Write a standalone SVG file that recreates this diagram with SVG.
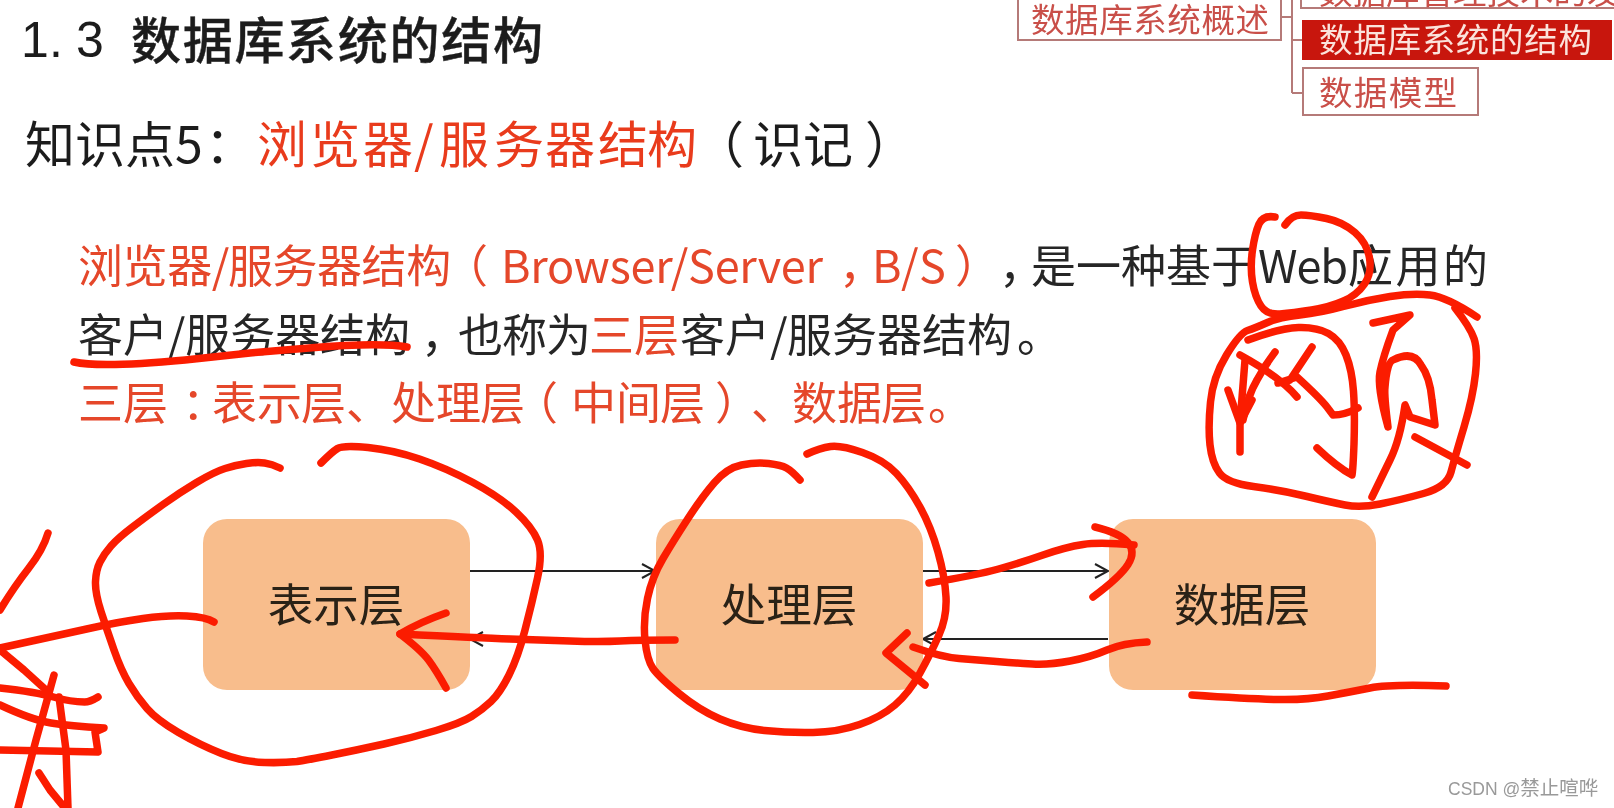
<svg xmlns="http://www.w3.org/2000/svg" width="1614" height="808" viewBox="0 0 1614 808">
<defs>
<filter id="soft" x="-2%" y="-2%" width="104%" height="104%"><feGaussianBlur stdDeviation="0.55"/></filter>
<marker id="arr" markerWidth="18" markerHeight="18" refX="15" refY="9" orient="auto" markerUnits="userSpaceOnUse"><path d="M2 2 L15 9 L2 16" fill="none" stroke="#222" stroke-width="2"/></marker>
</defs>
<style>
text{font-family:"Noto Sans CJK SC","Noto Sans",sans-serif}
.t{font-size:45px;fill:#262626}
.r{font-size:45px;fill:#e5472b}
.h{font-size:50px;fill:#1e1e1e}
.hr{fill:#e93a1c}
.n{fill:#f8bd8c}
.nt{font-size:45.5px;fill:#2a2018;text-anchor:middle}
.c{stroke:#222;stroke-width:2;fill:none;marker-end:url(#arr)}
.nav{fill:#fff;stroke:#b57a78;stroke-width:2}
.navt{font-size:33.5px;fill:#c9504a}
.ink{fill:none;stroke:#fb1c04;stroke-width:7.5;stroke-linecap:round;stroke-linejoin:round}
</style>
<rect width="1614" height="808" fill="#fff"/>
<g filter="url(#soft)">
<g id="title">
<text x="21 49 76" y="57" font-size="50" style="font-family:'Liberation Sans',sans-serif" fill="#1e1e1e">1.3</text>
<text x="131" y="59" style="font-size:50px;font-weight:500;letter-spacing:1.7px" fill="#1e1e1e" stroke="#1e1e1e" stroke-width="0.4">数据库系统的结构</text>
<text x="25" y="163" class="h">知识点5</text>
<text x="205" y="163" class="h">：</text>
<text x="257 310 363 414 439 494 545 598 647 694" y="163" class="h"><tspan class="hr">浏览器/服务器结构</tspan>（</text>
<text x="753" y="163" class="h">识记</text>
<text x="865" y="163" class="h">）</text>
</g>
<g id="nav">
<path d="M1281 17H1292M1292 0V93M1292 40H1302M1292 93H1302" fill="none" stroke="#b57a78" stroke-width="2"/>
<rect class="nav" x="1018" y="-4" width="263" height="44"/>
<text class="navt" x="1031" y="32" textLength="238">数据库系统概述</text>
<rect class="nav" x="1301" y="-30" width="320" height="38"/>
<text class="navt" x="1319" y="4">数据库管理技术的发展</text>
<rect x="1302" y="20" width="310" height="40" fill="#c8170d"/>
<text class="navt" style="fill:#fbe3dc" x="1319" y="52" textLength="273">数据库系统的结构</text>
<rect class="nav" x="1303" y="68" width="175" height="47"/>
<text class="navt" x="1319" y="105" textLength="138">数据模型</text>
</g>
<g id="body">
<text class="r" x="78 122.6 167.2 211.8 228 272.6 317 361.6 406.2 443" y="283">浏览器/服务器结构（</text>
<text class="r" x="501" y="283" textLength="322">Browser/Server</text>
<text class="r" x="839 872 901 919 955" y="283">，B/S）</text>
<text class="t" x="999 1031 1076 1121 1166 1211" y="283">，是一种基于</text>
<text class="t" x="1258" y="283" textLength="90">Web</text>
<text class="t" x="1348" y="283" textLength="140">应用的</text>
<text class="t" x="78" y="352" textLength="332">客户/服务器结构</text>
<text class="t" x="421 458 502 546" y="352">，也称为</text>
<text class="r" x="589" y="352" textLength="90">三层</text>
<text class="t" x="680 725 770 787 832 877 922 967 1017" y="352">客户/服务器结构。</text>
<text class="r" x="78 123 182 212 257 301 346 391 436 480 513 571 616 660 715 751 792 837 881 928" y="420">三层：表示层、处理层（中间层）、数据层。</text>
</g>
<g id="connectors">
<path class="c" d="M470 571H655"/>
<path class="c" d="M656 639H470"/>
<path class="c" d="M923 571H1108"/>
<path class="c" d="M1108 639H923"/>
</g>
<g id="node-presentation">
<rect class="n" x="203" y="519" width="267" height="171" rx="24"/>
<text class="nt" x="336" y="622">表示层</text>
</g>
<g id="node-processing">
<rect class="n" x="656" y="519" width="267" height="171" rx="24"/>
<text class="nt" x="789" y="622">处理层</text>
</g>
<g id="node-data">
<rect class="n" x="1109" y="519" width="267" height="171" rx="24"/>
<text class="nt" x="1242" y="622">数据层</text>
</g>
<g id="ink">
<path class="ink" d="M280 468 Q272 464 264.5 463 Q257 462 246.5 463.5 Q236 465 225 468.5 Q214 472 196.5 482.5 Q179 493 163 504.5 Q147 516 132.5 527 Q118 538 111 546 Q104 554 100 562 Q96 570 95.5 581.5 Q95 593 101 611.5 Q107 630 114 650 Q121 670 129 683.5 Q137 697 147 708.5 Q157 720 178.5 732.5 Q200 745 221.5 753.5 Q243 762 265 762.5 Q283 763 297 761.5 Q307 760 332 755 Q357 750 384 744 Q411 738 436 730.5 Q461 723 471.5 716.5 Q482 710 491 701.5 Q500 693 509 675 Q518 657 525 630 Q532 603 537.5 578 Q543 553 537.5 540 Q532 527 516 512 Q500 497 473 482.5 Q446 468 419.5 459 Q393 450 368 447.5 Q343 445 337.5 448.5 Q332 452 321 463"/>
<path class="ink" d="M800 480 Q792 471 786.5 468 Q781 465 768.5 463.5 Q756 462 741.5 465 Q727 468 714.5 482.5 Q702 497 688 518.5 Q674 540 663 558.5 Q652 577 647.5 598.5 Q643 620 645 640 Q647 660 653 668.5 Q659 677 679 693.5 Q699 710 720 719 Q741 728 764.5 730.5 Q788 733 813 732.5 Q838 732 859.5 724.5 Q881 717 895 705 Q909 693 920 673 Q931 653 939 635 Q947 617 946 597 Q945 577 938 552 Q931 527 920 507 Q909 487 896.5 473.5 Q884 460 862.5 452.5 Q841 445 830.5 446.5 Q820 448 807 454"/>
<path class="ink" d="M675 640 Q640 640 620 641 Q600 642 570 641 Q540 640 510 639 Q480 638 400 634"/>
<path class="ink" d="M446 613 Q420 622 400 634 Q421 650 428.5 660 Q436 670 446 688"/>
<path class="ink" d="M214 622 Q206 617 187 616 Q168 615 143 618.5 Q118 622 89 628.5 Q60 635 0 648"/>
<path class="ink" d="M48 533 Q43 550 28.5 568.5 Q14 587 0 610"/>
<polyline class="ink" points="0,650 24,670 46,690"/>
<path class="ink" d="M0 688 Q36 692 53.5 697 Q71 702 84.5 702 Q90 702 98 697"/>
<path class="ink" d="M0 705 Q32 720 51 723 Q70 726 104 728 L95 732 L98 752 L0 750"/>
<polyline class="ink" points="54,675 36,740 18,808"/>
<polyline class="ink" points="59,697 66,750 68,808"/>
<polyline class="ink" points="39,773 50,790 64,807"/>
<path class="ink" d="M929 583 Q977 575 998.5 569 Q1020 563 1043 555 Q1066 547 1083 544.5 Q1100 542 1134 545"/>
<path class="ink" d="M1095 527 Q1120 533 1128 542.5 Q1136 552 1128 564.5 Q1120 577 1093 597"/>
<path class="ink" d="M1147 642 Q1123 643 1107 650 Q1091 657 1070 661 Q1049 665 1032.5 664 Q1016 663 996.5 661.5 Q977 660 959 658.5 Q941 657 913 647"/>
<polyline class="ink" points="907,633 886,653 925,685"/>
<path class="ink" d="M1192 695 Q1250 699 1278.5 699.5 Q1307 700 1328 696 Q1350 692 1370 688 Q1390 684 1446 686"/>
<path class="ink" d="M74 362 Q100 368 185 360 Q217 356.5 250 353 Q279.5 350.5 309 348 Q380 342 407 347"/>
<path class="ink" d="M1275 217 Q1263 215 1259 224 Q1255 233 1252.5 250 Q1250 267 1252.5 282 Q1255 297 1261 306 Q1267 315 1280 314 Q1293 313 1311.5 310 Q1330 307 1343.5 301 Q1357 295 1364.5 284 Q1372 273 1369.5 258 Q1367 243 1355 232.5 Q1343 222 1326.5 218.5 Q1310 215 1301 215 Q1292 215 1285 225"/>
<path class="ink" d="M1477 317 Q1447 297 1430 295 Q1413 293 1390 296.5 Q1367 300 1343.5 306.5 Q1320 313 1300 315 Q1280 317 1267.5 322.5 Q1255 328 1247.5 330.5 Q1240 333 1226.5 355 Q1213 377 1210.5 402 Q1208 427 1210 445 Q1212 463 1219.5 473 Q1227 483 1253.5 486.5 Q1280 490 1305 496 Q1330 502 1345 505 Q1360 508 1380 504 Q1400 500 1423.5 493.5 Q1447 487 1451 472 Q1455 457 1464 427 Q1473 397 1475.5 373.5 Q1478 350 1474 338.5 Q1470 327 1455 308"/>
<path class="ink" d="M1248 340 Q1280 328 1298.5 327.5 Q1317 327 1328.5 333.5 Q1340 340 1346 355 Q1352 370 1353.5 391.5 Q1355 413 1354 444 Q1353 470 1352 475 Q1337 467 1317 448"/>
<polyline class="ink" points="1228,390 1240,423 1252,400"/>
<polyline class="ink" points="1245,360 1240,423 1240,452"/>
<path class="ink" d="M1243 420 Q1248 395 1257 380 Q1265 365 1275 352"/>
<path class="ink" d="M1240 355 Q1280 377 1297 397"/>
<path class="ink" d="M1312 347 L1290 380 L1278 383 L1297 377 Q1320 398 1327 407 L1333 415 Q1345 415 1358 408"/>
<path class="ink" d="M1373 323 L1410 315 L1393 330 Q1383 357 1380 372 Q1377 387 1388 427 Q1384 395 1385 387 Q1387 362 1393 360 Q1413 350 1421 365 Q1430 377 1432 400 L1435 425 L1410 417 L1405 405 Q1400 440 1390 460 L1372 497"/>
<polyline class="ink" points="1415,437 1467,465"/>
</g>
<text id="watermark" x="1448" y="795" font-size="17.5" fill="#999" style="font-family:'Liberation Sans','Noto Sans CJK SC',sans-serif">CSDN @<tspan font-size="19.5" style="font-family:'Noto Sans CJK SC',sans-serif">禁止喧哗</tspan></text>
</g>
</svg>
